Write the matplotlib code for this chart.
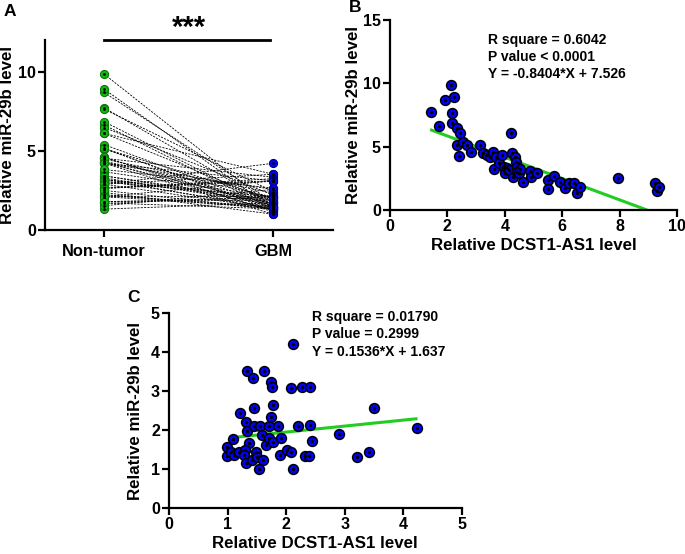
import matplotlib
matplotlib.use("Agg")
import matplotlib.pyplot as plt
import numpy as np

plt.rcParams['font.family'] = ['Liberation Sans', 'DejaVu Sans']
plt.rcParams['font.weight'] = 'bold'
plt.rcParams['axes.labelweight'] = 'bold'

# panel B: DCST1-AS1 (x) vs miR-29b (y)
bX = [1.43, 1.72, 1.93, 2.13, 2.23, 2.15, 2.15, 2.35, 2.44, 2.35, 2.41, 2.53, 2.67, 2.83,
      3.15, 3.23, 3.37, 3.49, 3.58, 3.64, 3.70, 3.81, 3.91, 3.98, 4.01, 4.07, 4.13, 4.23,
      4.26, 4.30, 4.37, 4.40, 4.42, 4.44, 4.49, 4.53, 4.63, 4.88, 4.92, 5.14, 5.52, 5.52,
      5.70, 5.91, 6.10, 6.23, 6.40, 6.51, 6.63, 7.93, 9.24, 9.30, 9.36]
bY = [7.71, 6.63, 8.68, 9.84, 8.89, 7.63, 6.84, 6.47, 6.10, 5.13, 4.24, 5.39, 5.13, 4.60,
      5.16, 4.53, 4.34, 4.21, 4.58, 3.21, 4.21, 3.68, 4.32, 3.42, 2.89, 3.29, 3.16, 6.10,
      4.47, 2.63, 4.21, 3.82, 3.42, 3.03, 2.89, 3.21, 2.18, 3.11, 2.63, 2.89, 2.37, 1.68,
      2.68, 2.24, 1.71, 2.10, 2.10, 1.32, 1.79, 2.50, 2.10, 1.53, 1.79]

# panel C
cX = [0.99, 0.99, 1.09, 1.06, 1.11, 1.21, 1.19, 1.31, 1.33, 1.33, 1.37, 1.30, 1.28, 1.31,
      1.41, 1.43, 1.45, 1.46, 1.48, 1.50, 1.54, 1.55, 1.60, 1.59, 1.63, 1.66, 1.70, 1.71,
      1.75, 1.75, 1.76, 1.77, 1.77, 1.86, 1.90, 1.91, 2.01, 2.08, 2.09, 2.11, 2.11, 2.20,
      2.28, 2.32, 2.40, 2.41, 2.41, 2.44, 2.90, 3.21, 3.42, 3.51, 4.24]
cY = [1.57, 1.33, 1.77, 1.44, 1.35, 2.43, 1.44, 2.21, 3.52, 1.98, 1.66, 1.48, 1.36, 1.14,
      1.23, 3.33, 2.09, 2.56, 1.44, 1.31, 1.00, 2.09, 1.23, 1.87, 3.52, 1.61, 2.09, 1.78,
      2.34, 3.24, 3.11, 2.64, 1.70, 2.09, 1.36, 1.78, 1.48, 1.44, 3.07, 4.21, 1.00, 2.09,
      3.11, 1.34, 1.34, 3.11, 2.12, 1.72, 1.90, 1.31, 1.43, 2.56, 2.04]

# panel A: paired samples
nonTumor = bY
gbm = cY
groups = ["Non-tumor", "GBM"]

blue = '#0202f2'
green = '#10bb10'
lineGreen = '#22cc22'

fig = plt.figure(figsize=(6.85, 5.54), dpi=100)

def styleAxes(ax):
    for s in ['top', 'right']:
        ax.spines[s].set_visible(False)
    for s in ['left', 'bottom']:
        ax.spines[s].set_linewidth(1.6)
    ax.tick_params(width=1.6, length=5, labelsize=11.5, pad=1.5)
    for lab in ax.get_xticklabels() + ax.get_yticklabels():
        lab.set_fontweight('bold')

# ---- A ----
axA = fig.add_axes([0.0657, 0.5848, 0.4203, 0.3432])
for a, b in zip(nonTumor, gbm):
    axA.plot([0, 1], [a, b], color='black', lw=0.6, ls=(0, (2.5, 1.5)), zorder=1)
axA.plot(np.zeros(len(nonTumor)), nonTumor, 'o', ms=5.8, mfc=green, mec='#0b770b', mew=0.8, zorder=3)
axA.plot(np.ones(len(gbm)), gbm, 'o', ms=5.8, mfc=blue, mec='#000088', mew=0.8, zorder=3)
axA.plot(np.zeros(len(nonTumor)), nonTumor, 'o', ms=1.0, color='black', zorder=4)
axA.plot(np.ones(len(gbm)), gbm, 'o', ms=1.0, color='black', zorder=4)
axA.set_xlim(-0.35, 1.355)
axA.set_ylim(0, 12)
axA.set_yticks([0, 5, 10])
axA.set_xticks([0, 1])
axA.set_xticklabels(groups)
axA.set_ylabel("Relative miR-29b level", fontsize=12.2)
styleAxes(axA)
axA.yaxis.set_label_coords(-0.104, 0.5)
axA.tick_params(axis='x', labelsize=11.8, pad=5)
axA.plot([0, 0.985], [12, 12], color='black', lw=2, clip_on=False)
axA.text(0.5, 11.9, "***", ha='center', va='bottom', fontsize=21, fontweight='bold')

# ---- B ----
axB = fig.add_axes([0.5693, 0.6209, 0.419, 0.343])
axB.plot([1.4, 7.526 / 0.8404], [-0.8404 * 1.4 + 7.526, 0], color=lineGreen, lw=2.2, zorder=2, solid_capstyle='butt')
axB.scatter(bX, bY, s=50, color=blue, edgecolors='black', linewidths=1.1, zorder=3, clip_on=False)
axB.scatter(bX, bY, s=2, color='black', zorder=4)
axB.set_xlim(0, 10)
axB.set_ylim(0, 15)
axB.set_xticks([0, 2, 4, 6, 8, 10])
axB.set_yticks([0, 5, 10, 15])
axB.set_xlabel("Relative DCST1-AS1 level", fontsize=12.2, labelpad=3)
axB.set_ylabel("Relative miR-29b level", fontsize=12.2)
styleAxes(axB)
axB.yaxis.set_label_coords(-0.101, 0.5)
axB.text(3.4, 14.0, "R square = 0.6042\nP value < 0.0001\nY = -0.8404*X + 7.526",
         ha='left', va='top', fontsize=10, fontweight='bold', linespacing=1.3)

# ---- C ----
axC = fig.add_axes([0.2467, 0.0836, 0.4273, 0.351])
axC.plot([1.15, 4.22], [0.1536 * 1.15 + 1.637, 0.1536 * 4.22 + 1.637], color=lineGreen, lw=2.2, zorder=2)
axC.scatter(cX, cY, s=50, color=blue, edgecolors='black', linewidths=1.1, zorder=3)
axC.scatter(cX, cY, s=2, color='black', zorder=4)
axC.set_xlim(0, 5)
axC.set_ylim(0, 5)
axC.set_xticks([0, 1, 2, 3, 4, 5])
axC.set_yticks([0, 1, 2, 3, 4, 5])
axC.set_xlabel("Relative DCST1-AS1 level", fontsize=12.2, labelpad=3)
axC.set_ylabel("Relative miR-29b level", fontsize=12.2)
styleAxes(axC)
axC.yaxis.set_label_coords(-0.089, 0.5)
axC.text(2.44, 5.08, "R square = 0.01790\nP value = 0.2999\nY = 0.1536*X + 1.637",
         ha='left', va='top', fontsize=10, fontweight='bold', linespacing=1.3)

fig.text(4 / 685, 1 - 4 / 554, "A", ha='left', va='top', fontsize=12.5, fontweight='bold')
fig.text(349 / 685, 1 - 0 / 554, "B", ha='left', va='top', fontsize=12.5, fontweight='bold')
fig.text(127 / 685, 1 - 290 / 554, "C", ha='left', va='top', fontsize=12.5, fontweight='bold')

fig.savefig("out.png", dpi=100)
